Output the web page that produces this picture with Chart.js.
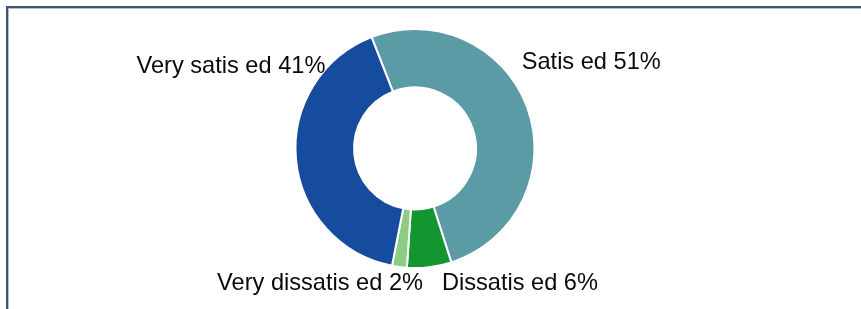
<!DOCTYPE html>
<html>
<head>
<meta charset="utf-8">
<script src="https://cdn.jsdelivr.net/npm/chart.js@4/dist/chart.umd.min.js"></script>
<style>
    html, body { margin: 0; padding: 0; background: #fff; }
    #wrap { position: relative; width: 861px; height: 309px; overflow: hidden; }
    #frame {
        position: absolute; left: 6px; top: 6px; right: -10px; bottom: -10px;
        border-top: 2px solid #44546a; border-left: 2px solid #44546a;
        box-shadow: inset 1px 1px 0 #b4c0d2;
    }
    #chart { position: absolute; left: 0; top: 0; }
</style>
</head>
<body>
<div id="wrap">
    <div id="frame"></div>
    <canvas id="chart" width="861" height="309"></canvas>
</div>
<script>
// Satisfaction split (the source export lost the "fi" ligature in the labels)
const categories = ["Satis ed", "Dissatis ed", "Very dissatis ed", "Very satis ed"];
const shares = [51, 6, 2, 41];
const colors = ['#5a9ba6', '#13962f', '#8ecb84', '#154c9d'];

// label placement relative to the ring centre, in units of outer radius
// [dx, dy, align]
const labelPlacement = [
    [0.893, -0.72, 'left'],
    [0.225, 1.13, 'left'],
    [0.067, 1.13, 'right'],
    [-0.75, -0.69, 'right']
];

const outsideLabels = {
    id: 'outsideLabels',
    afterDatasetsDraw(chart) {
        const ctx = chart.ctx;
        const arcs = chart.getDatasetMeta(0).data;
        ctx.save();
        ctx.font = '23.6px "Liberation Sans", Arial, sans-serif';
        ctx.fillStyle = '#0a0a0a';
        ctx.textBaseline = 'middle';
        arcs.forEach((arc, i) => {
            const p = labelPlacement[i];
            const r = arc.outerRadius;
            ctx.textAlign = p[2];
            ctx.fillText(`${categories[i]} ${shares[i]}%`, arc.x + p[0] * r, arc.y + p[1] * r);
        });
        ctx.restore();
    }
};

new Chart(document.getElementById('chart'), {
    type: 'doughnut',
    data: {
        labels: categories,
        datasets: [{
            data: shares,
            backgroundColor: colors,
            borderColor: '#ffffff',
            borderWidth: 2,
            hoverOffset: 0
        }]
    },
    options: {
        responsive: false,
        animation: false,
        rotation: -21.3,
        cutout: '51%',
        layout: { padding: { left: 0, right: 31, top: 28, bottom: 40 } },
        plugins: { legend: { display: false }, tooltip: { enabled: false } }
    },
    plugins: [outsideLabels]
});
</script>
</body>
</html>
